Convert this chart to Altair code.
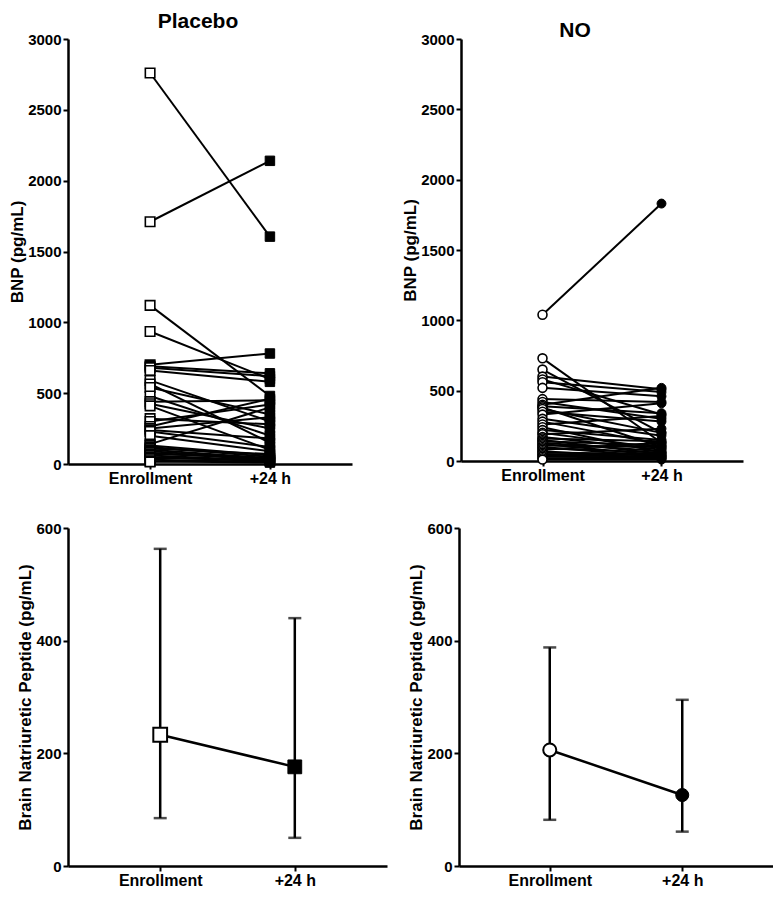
import altair as alt
import pandas as pd

FONT = "Liberation Sans"
TIMES = ["Enrollment", "+24 h"]

# Individual patients (pg/mL)
placebo_enroll = [2760, 1710, 1120, 935, 700, 690, 680, 660, 590, 565, 540, 480,
                  440, 425, 410, 320, 300, 265, 250, 240, 230, 200, 140, 130,
                  120, 110, 100, 90, 80, 70, 60, 50, 40, 30, 20, 15]
placebo_24h = [1605, 2140, 480, 600, 780, 640, 620, 580, 300, 150, 350, 200,
               450, 250, 100, 280, 420, 460, 330, 180, 120, 90, 400, 60,
               50, 70, 40, 35, 30, 45, 25, 20, 30, 15, 10, 20]

no_enroll = [1040, 730, 650, 600, 580, 560, 520, 440, 420, 400, 390, 380, 370,
             350, 330, 300, 280, 260, 240, 220, 200, 190, 170, 160, 150, 140,
             130, 120, 110, 100, 90, 80, 70, 60, 50, 40, 30, 20, 10]
no_24h = [1830, 130, 200, 510, 330, 490, 460, 420, 300, 520, 340, 100, 200,
          280, 410, 180, 120, 320, 60, 150, 90, 230, 80, 140, 50, 110,
          70, 40, 100, 30, 60, 130, 20, 50, 40, 30, 25, 15, 10]

# Summary (median and interquartile range), pg/mL
placebo_mid = [233, 176]
placebo_lo = [85, 50]
placebo_hi = [563, 440]
no_mid = [206, 126]
no_lo = [82, 61]
no_hi = [388, 295]


def paired(enroll, after):
    rows = []
    for i, (a, b) in enumerate(zip(enroll, after)):
        rows.append({"id": i, "time": TIMES[0], "value": a})
        rows.append({"id": i, "time": TIMES[1], "value": b})
    return pd.DataFrame(rows)


def xenc():
    return alt.X("time:N", sort=TIMES, scale=alt.Scale(type="point", padding=0.685),
                 axis=alt.Axis(title=None, labelAngle=0))


def top_panel(df, shape, size, title, width, height, tdx, toff):
    x = xenc()
    y = alt.Y("value:Q", scale=alt.Scale(domain=[0, 3000], nice=False),
              axis=alt.Axis(title="BNP (pg/mL)", format="d",
                            values=list(range(0, 3001, 500))))
    base = alt.Chart(df)
    lines = base.mark_line(color="black", strokeWidth=2).encode(x=x, y=y, detail="id:N")
    opened = base.transform_filter(alt.datum.time == TIMES[0]).mark_point(
        shape=shape, filled=True, fill="white", stroke="black", strokeWidth=1.6,
        size=size, opacity=1).encode(x=x, y=y)
    closed = base.transform_filter(alt.datum.time == TIMES[1]).mark_point(
        shape=shape, filled=True, fill="black", stroke="black", strokeWidth=1,
        size=size, opacity=1).encode(x=x, y=y)
    return alt.layer(lines, opened, closed).properties(
        width=width, height=height,
        title=alt.TitleParams(title, anchor="middle", frame="group", dx=tdx, offset=toff))


def bottom_panel(mid, lo, hi, shape, size, width, height):
    df = pd.DataFrame({"time": TIMES, "mid": mid, "lo": lo, "hi": hi})
    x = xenc()
    yax = alt.Axis(title="Brain Natriuretic Peptide (pg/mL)", format="d",
                   values=[0, 200, 400, 600])
    ysc = alt.Scale(domain=[0, 600], nice=False)
    base = alt.Chart(df)
    rule = base.mark_rule(color="black", strokeWidth=2.5).encode(
        x=x, y=alt.Y("lo:Q", scale=ysc, axis=yax), y2="hi:Q")
    caps = base.transform_fold(["lo", "hi"], as_=["k", "v"]).mark_tick(
        color="black", size=13, thickness=2.5).encode(
        x=x, y=alt.Y("v:Q", scale=ysc, axis=yax))
    line = base.mark_line(color="black", strokeWidth=2.5).encode(
        x=x, y=alt.Y("mid:Q", scale=ysc, axis=yax))
    opened = base.transform_filter(alt.datum.time == TIMES[0]).mark_point(
        shape=shape, filled=True, fill="white", stroke="black", strokeWidth=2,
        size=size, opacity=1).encode(x=x, y=alt.Y("mid:Q", scale=ysc, axis=yax))
    closed = base.transform_filter(alt.datum.time == TIMES[1]).mark_point(
        shape=shape, filled=True, fill="black", stroke="black", strokeWidth=1,
        size=size, opacity=1).encode(x=x, y=alt.Y("mid:Q", scale=ysc, axis=yax))
    return alt.layer(rule, caps, line, opened, closed).properties(width=width, height=height)


tl = top_panel(paired(placebo_enroll, placebo_24h), "square", 90, "Placebo", 284, 425, -12, 0)
tr = top_panel(paired(no_enroll, no_24h), "circle", 80, "NO", 282, 422, -27, -9)
bl = bottom_panel(placebo_mid, placebo_lo, placebo_hi, "square", 190, 319, 338)
br = bottom_panel(no_mid, no_lo, no_hi, "circle", 170, 314, 338)

top = alt.hconcat(tl, tr, spacing=49)
bottom = alt.hconcat(bl, br, spacing=20)

chart = alt.vconcat(top, bottom, spacing=35).properties(
    padding={"left": 0, "top": 3, "right": 0, "bottom": 0}
).configure_axis(
    domainColor="black", domainWidth=2.5, tickColor="black", tickWidth=2, tickSize=5,
    labelFont=FONT, labelFontSize=15, labelFontWeight="bold", labelColor="black",
    titleFont=FONT, titleFontSize=17, titleFontWeight="bold", titleColor="black",
    grid=False, labelPadding=2, titlePadding=1
).configure_axisX(
    labelFontSize=16, labelPadding=1
).configure_view(
    stroke=None
).configure_title(
    font=FONT, fontSize=21, fontWeight="bold", color="black"
)

chart.save("out.html", embed_options={"renderer": "svg", "actions": False})
